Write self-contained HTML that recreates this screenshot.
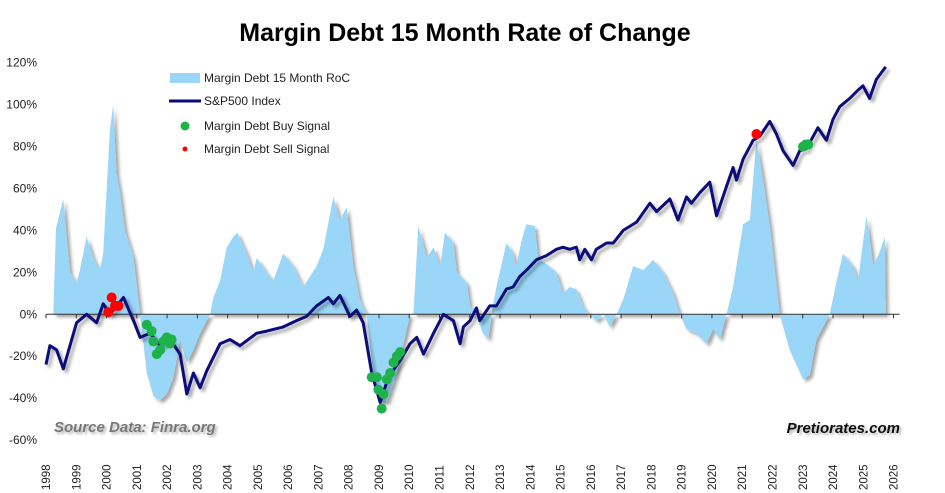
<!DOCTYPE html>
<html><head><meta charset="utf-8"><style>
body{margin:0;background:#fff;}
svg{display:block;font-family:"Liberation Sans",Arial,sans-serif;}
</style></head><body>
<svg id="chart" width="945" height="493" viewBox="0 0 945 493">
<defs>
<filter id="sh" x="-5%" y="-5%" width="110%" height="110%"><feDropShadow dx="3" dy="3" stdDeviation="1.5" flood-color="#000" flood-opacity="0.35"/></filter>
<filter id="tsh"><feDropShadow dx="2" dy="2" stdDeviation="1.2" flood-color="#000" flood-opacity="0.3"/></filter>
</defs>
<text x="465" y="41" text-anchor="middle" font-size="25" font-weight="bold" fill="#000">Margin Debt 15 Month Rate of Change</text>
<g id="yaxis"></g>
<g id="area"></g>
<g id="zero"></g>
<g id="line"></g>
<g id="sig"></g>
<g id="xlab"></g>
<g>
 <rect x="170" y="73" width="30" height="10" fill="#99d6f7"/>
 <text x="204" y="82" font-size="12" fill="#222">Margin Debt 15 Month RoC</text>
 <line x1="169" y1="101" x2="201" y2="101" stroke="#0a0a78" stroke-width="3"/>
 <text x="204" y="105" font-size="12" fill="#222">S&amp;P500 Index</text>
 <circle cx="185" cy="126" r="4.5" fill="#1db34a"/>
 <text x="204" y="130" font-size="12" fill="#222">Margin Debt Buy Signal</text>
 <circle cx="185" cy="149" r="2.5" fill="#ff0000"/>
 <text x="204" y="153" font-size="12" fill="#222">Margin Debt Sell Signal</text>
</g>
<text x="54" y="432" font-size="15" font-weight="bold" font-style="italic" fill="#777" filter="url(#tsh)">Source Data: Finra.org</text>
<text x="900" y="433" text-anchor="end" font-size="15" font-weight="bold" font-style="italic" fill="#111" filter="url(#tsh)">Pretiorates.com</text>
</svg>
<script>
const yTicks=[120,100,80,60,40,20,0,-20,-40,-60];
const years=[1998,1999,2000,2001,2002,2003,2004,2005,2006,2007,2008,2009,2010,2011,2012,2013,2014,2015,2016,2017,2018,2019,2020,2021,2022,2023,2024,2025,2026];
const rocT=[1998.24,1998.33,1998.57,1998.79,1999.01,1999.12,1999.34,1999.56,1999.78,1999.89,2000.11,2000.22,2000.33,2000.44,2000.61,2000.89,2001.11,2001.33,2001.55,2001.77,2001.99,2002.21,2002.43,2002.65,2002.87,2003.09,2003.42,2003.53,2003.75,2003.97,2004.19,2004.32,2004.63,2004.85,2004.96,2005.29,2005.51,2005.84,2006.17,2006.50,2006.94,2007.16,2007.49,2007.71,2007.93,2008.15,2008.37,2008.59,2008.81,2009.04,2009.26,2009.59,2010.03,2010.14,2010.30,2010.58,2010.80,2011.02,2011.18,2011.46,2011.57,2011.90,2012.01,2012.22,2012.44,2012.61,2012.72,2012.88,2013.21,2013.43,2013.54,2013.71,2013.87,2014.15,2014.26,2014.53,2014.86,2015.08,2015.30,2015.52,2015.74,2015.96,2016.18,2016.41,2016.63,2016.85,2017.07,2017.40,2017.73,2018.06,2018.39,2018.72,2018.94,2019.16,2019.49,2019.82,2020.04,2020.26,2020.48,2020.70,2021.03,2021.25,2021.47,2021.69,2021.91,2022.24,2022.57,2023.01,2023.23,2023.45,2023.67,2023.89,2024.11,2024.33,2024.66,2024.83,2024.94,2025.11,2025.33,2025.55,2025.71,2025.74];
const rocV=[0,41,55,20,15,21,37,27,21,29,88,100,67,58,40,27,0,-28,-39,-41,-38,-30,-12,-23,-17,-9,0,8,16,32,37,39,29,20,27,20,16,29,23,13,23,31,56,45,51,23,7,0,-28,-41,-42,-28,0,0,42,27,32,23,39,34,20,15,4,-1,-9,-12,0,13,34,29,23,35,43,42,26,24,20,10,13,12,4,0,-3,0,-6,0,7,23,21,26,20,10,0,-7,-9,-14,-7,-12,0,13,43,45,83,64,42,0,-17,-31,-29,-12,-6,0,15,29,23,16,29,47,23,30,37,0];
const spT=[1998.0,1998.13,1998.35,1998.57,1999.01,1999.34,1999.67,1999.89,2000.11,2000.56,2000.89,2001.11,2001.44,2001.77,2002.10,2002.43,2002.65,2002.87,2003.09,2003.31,2003.75,2004.08,2004.41,2004.96,2005.29,2005.84,2006.28,2006.61,2006.94,2007.33,2007.49,2007.71,2008.04,2008.26,2008.48,2008.76,2009.04,2009.31,2009.70,2010.03,2010.25,2010.47,2010.80,2011.13,2011.46,2011.68,2011.79,2012.01,2012.22,2012.33,2012.66,2012.88,2013.21,2013.43,2013.65,2013.87,2014.20,2014.53,2014.86,2015.08,2015.30,2015.52,2015.63,2015.80,2016.02,2016.18,2016.52,2016.74,2017.07,2017.51,2017.95,2018.17,2018.61,2018.88,2019.16,2019.32,2019.60,2019.93,2020.15,2020.48,2020.70,2020.81,2021.03,2021.36,2021.58,2021.91,2022.13,2022.35,2022.68,2022.90,2023.12,2023.50,2023.78,2024.00,2024.22,2024.55,2024.83,2024.99,2025.21,2025.43,2025.74];
const spV=[-24,-15,-17,-26,-4,0,-4,5,0,8,-3,-11,-9,-15,-12,-19,-38,-28,-35,-27,-14,-12,-15,-9,-8,-6,-3,-1,4,8,5,9,-1,2,-4,-28,-42,-30,-22,-14,-11,-19,-9,0,-3,-14,-6,-3,3,-3,4,4,12,13,18,21,26,28,31,32,31,32,26,31,26,31,34,34,40,44,53,49,55,45,56,53,58,63,47,61,70,64,74,83,85,92,86,78,71,78,79,89,83,93,99,103,107,109,103,112,118];
const buyT=[2001.33,2001.49,2001.55,2001.66,2001.77,2001.88,2001.99,2002.10,2002.15,2008.76,2008.93,2008.98,2009.09,2009.15,2009.26,2009.37,2009.48,2009.59,2009.70,2023.01,2023.10,2023.18];
const buyV=[-5,-8,-13,-19,-17,-13,-11,-14,-12,-30,-30,-36,-45,-38,-31,-28,-23,-20,-18,80,81,81];
const sellT=[2000.06,2000.17,2000.28,2000.39,2021.47];
const sellV=[1,8,4,4,86];

const X=t=>46+(t-1998)*30.27;
const Y=v=>314.3-v*2.0965;
const NS='http://www.w3.org/2000/svg';
function mk(tag,parent,attrs){const e=document.createElementNS(NS,tag);for(const k in attrs)e.setAttribute(k,attrs[k]);parent.appendChild(e);return e;}

const ya=document.getElementById('yaxis');
yTicks.forEach(v=>{const t=mk('text',ya,{x:37,y:Y(v)+4,'text-anchor':'end','font-size':12,fill:'#222'});t.textContent=v+'%';

});

const ar=document.getElementById('area');
let d='M'+X(rocT[0])+','+Y(0);
rocT.forEach((t,i)=>{d+='L'+X(t).toFixed(1)+','+Y(rocV[i]).toFixed(1);});
d+='L'+X(rocT[rocT.length-1])+','+Y(0)+'Z';
const ap=mk('path',ar,{d:d,fill:'#99d6f7',filter:'url(#sh)'});



const z=document.getElementById('zero');
const zl=mk('line',z,{x1:X(1998),x2:X(2026)+6,y1:Y(0),y2:Y(0),stroke:'#333','stroke-width':1});


const xl=document.getElementById('xlab');
years.forEach(yr=>{mk('line',z,{x1:X(yr),x2:X(yr),y1:Y(0),y2:Y(0)+4,stroke:'#333'});
const t=mk('text',xl,{transform:'translate('+(X(yr)+4)+',490) rotate(-90)','font-size':11.5,fill:'#222'});t.textContent=yr;

});

const ln=document.getElementById('line');
let p='';spT.forEach((t,i)=>{p+=(i?'L':'M')+X(t).toFixed(1)+','+Y(spV[i]).toFixed(1);});
const lp=mk('path',ln,{d:p,fill:'none',stroke:'#0a0a78','stroke-width':3,'stroke-linejoin':'round',filter:'url(#sh)'});



const sg=document.getElementById('sig');
buyT.forEach((t,i)=>{const c=mk('circle',sg,{cx:X(t),cy:Y(buyV[i]),r:5,fill:'#1db34a'});

});
sellT.forEach((t,i)=>{const c=mk('circle',sg,{cx:X(t),cy:Y(sellV[i]),r:5,fill:'#ff0000'});

});
</script>
</body></html>
